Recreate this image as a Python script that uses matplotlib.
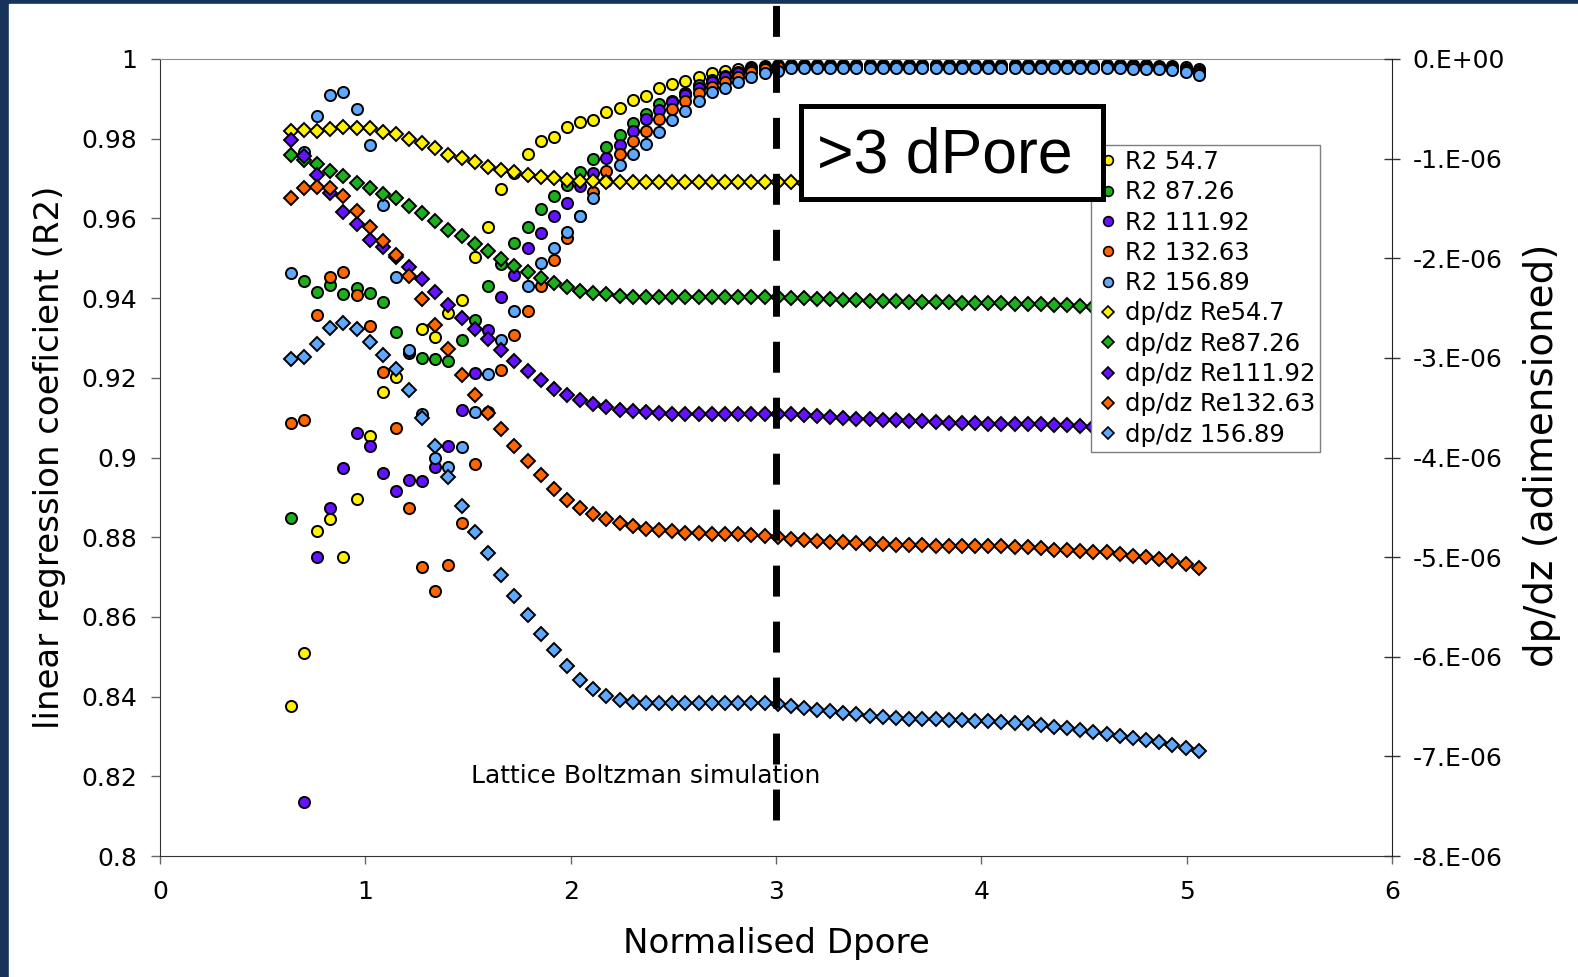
import numpy as np
import matplotlib.pyplot as plt
from matplotlib.patches import Rectangle
from matplotlib.lines import Line2D
from matplotlib.ticker import FuncFormatter

plt.rcParams['font.family'] = 'DejaVu Sans'

# Data
dpore = [0.636, 0.700, 0.764, 0.828, 0.892, 0.957, 1.021, 1.085, 1.149, 1.213,
         1.277, 1.341, 1.405, 1.469, 1.533, 1.598, 1.662, 1.726, 1.790, 1.854,
         1.918, 1.982, 2.046, 2.110, 2.174, 2.239, 2.303, 2.367, 2.431, 2.495,
         2.559, 2.623, 2.687, 2.751, 2.815, 2.880, 2.944, 3.008, 3.072, 3.136,
         3.200, 3.264, 3.328, 3.392, 3.456, 3.521, 3.585, 3.649, 3.713, 3.777,
         3.841, 3.905, 3.969, 4.033, 4.097, 4.162, 4.226, 4.290, 4.354, 4.418,
         4.482, 4.546, 4.610, 4.674, 4.738, 4.803, 4.867, 4.931, 4.995, 5.059]

r2_54_7 = [0.8377, 0.8510, 0.8816, 0.8845, 0.8750, 0.8895, 0.9054, 0.9165, 0.9201, 0.9262,
           0.9322, 0.9302, 0.9362, 0.9395, 0.9502, 0.9579, 0.9673, 0.9715, 0.9762, 0.9795,
           0.9805, 0.9830, 0.9841, 0.9847, 0.9868, 0.9878, 0.9897, 0.9908, 0.9926, 0.9937,
           0.9945, 0.9956, 0.9964, 0.9970, 0.9975, 0.9980, 0.9983, 0.9985, 0.9985, 0.9985,
           0.9985, 0.9985, 0.9985, 0.9985, 0.9985, 0.9985, 0.9985, 0.9985, 0.9985, 0.9985,
           0.9985, 0.9985, 0.9985, 0.9985, 0.9985, 0.9985, 0.9985, 0.9985, 0.9985, 0.9985,
           0.9985, 0.9985, 0.9985, 0.9985, 0.9985, 0.9984, 0.9983, 0.9982, 0.9979, 0.9975]
r2_87_26 = [0.8847, 0.9444, 0.9416, 0.9433, 0.9410, 0.9425, 0.9414, 0.9391, 0.9316, 0.9268,
            0.9249, 0.9247, 0.9243, 0.9295, 0.9345, 0.9431, 0.9486, 0.9538, 0.9579, 0.9624,
            0.9656, 0.9684, 0.9717, 0.9748, 0.9778, 0.9809, 0.9840, 0.9862, 0.9886, 0.9895,
            0.9915, 0.9935, 0.9947, 0.9957, 0.9968, 0.9977, 0.9980, 0.9983, 0.9983, 0.9983,
            0.9983, 0.9983, 0.9983, 0.9983, 0.9983, 0.9983, 0.9983, 0.9983, 0.9983, 0.9983,
            0.9983, 0.9983, 0.9983, 0.9983, 0.9983, 0.9983, 0.9983, 0.9983, 0.9983, 0.9983,
            0.9983, 0.9983, 0.9983, 0.9983, 0.9983, 0.9982, 0.9981, 0.9980, 0.9976, 0.9970]
r2_111_92 = [np.nan, 0.8136, 0.8750, 0.8873, 0.8973, 0.9061, 0.9029, 0.8960, 0.8917, 0.8944,
             0.8941, 0.8975, 0.9029, 0.9118, 0.9211, 0.9320, 0.9404, 0.9458, 0.9525, 0.9564,
             0.9607, 0.9639, 0.9681, 0.9713, 0.9751, 0.9784, 0.9820, 0.9849, 0.9873, 0.9891,
             0.9910, 0.9926, 0.9943, 0.9954, 0.9964, 0.9972, 0.9978, 0.9981, 0.9981, 0.9981,
             0.9981, 0.9981, 0.9981, 0.9981, 0.9981, 0.9981, 0.9981, 0.9981, 0.9981, 0.9981,
             0.9981, 0.9981, 0.9981, 0.9981, 0.9981, 0.9981, 0.9981, 0.9981, 0.9981, 0.9981,
             0.9981, 0.9981, 0.9981, 0.9981, 0.9981, 0.9980, 0.9979, 0.9977, 0.9973, 0.9967]
r2_132_63 = [0.9087, 0.9094, 0.9358, 0.9452, 0.9466, 0.9408, 0.9331, 0.9215, 0.9073, 0.8873,
             0.8726, 0.8665, 0.8730, 0.8835, 0.8984, 0.9115, 0.9220, 0.9307, 0.9368, 0.9430,
             0.9496, 0.9550, 0.9605, 0.9665, 0.9720, 0.9762, 0.9795, 0.9820, 0.9849, 0.9874,
             0.9895, 0.9914, 0.9930, 0.9943, 0.9956, 0.9967, 0.9974, 0.9979, 0.9979, 0.9979,
             0.9979, 0.9979, 0.9979, 0.9979, 0.9979, 0.9979, 0.9979, 0.9979, 0.9979, 0.9979,
             0.9979, 0.9979, 0.9979, 0.9979, 0.9979, 0.9979, 0.9979, 0.9979, 0.9979, 0.9979,
             0.9979, 0.9979, 0.9979, 0.9979, 0.9979, 0.9978, 0.9977, 0.9975, 0.9970, 0.9964]
r2_156_89 = [0.9464, 0.9767, 0.9858, 0.9910, 0.9917, 0.9875, 0.9784, 0.9634, 0.9454, 0.9271,
             0.9110, 0.8998, 0.8977, 0.9027, 0.9113, 0.9209, 0.9295, 0.9368, 0.9430, 0.9487,
             0.9525, 0.9565, 0.9605, 0.9650, 0.9695, 0.9735, 0.9762, 0.9786, 0.9818, 0.9847,
             0.9870, 0.9895, 0.9916, 0.9928, 0.9943, 0.9956, 0.9964, 0.9971, 0.9977, 0.9977,
             0.9977, 0.9977, 0.9977, 0.9977, 0.9977, 0.9977, 0.9977, 0.9977, 0.9977, 0.9977,
             0.9977, 0.9977, 0.9977, 0.9977, 0.9977, 0.9977, 0.9977, 0.9977, 0.9977, 0.9977,
             0.9977, 0.9977, 0.9977, 0.9977, 0.9976, 0.9975, 0.9974, 0.9972, 0.9967, 0.9960]

# pressure gradient, in units of 1e-6
dp_54_7 = [-0.72, -0.71, -0.72, -0.70, -0.68, -0.69, -0.69, -0.73, -0.75, -0.80,
           -0.84, -0.89, -0.96, -0.99, -1.03, -1.08, -1.11, -1.13, -1.16, -1.18,
           -1.19, -1.21, -1.22, -1.22, -1.23, -1.23, -1.23, -1.23, -1.23, -1.23,
           -1.23, -1.23, -1.23, -1.23, -1.23, -1.23, -1.23, -1.23, -1.23, -1.24,
           -1.24, -1.24, -1.24, -1.24, -1.25, -1.25, -1.25, -1.25, -1.25, -1.26,
           -1.26, -1.26, -1.26, -1.26, -1.26, -1.27, -1.27, -1.27, -1.27, -1.28,
           -1.28, -1.29, -1.29, -1.30, -1.30, -1.31, -1.32, -1.33, -1.34, -1.36]
dp_87_26 = [-0.96, -1.01, -1.05, -1.12, -1.17, -1.24, -1.29, -1.36, -1.40, -1.48,
            -1.55, -1.63, -1.72, -1.78, -1.86, -1.93, -2.01, -2.08, -2.14, -2.20,
            -2.25, -2.29, -2.33, -2.35, -2.36, -2.38, -2.39, -2.39, -2.39, -2.39,
            -2.39, -2.39, -2.39, -2.39, -2.39, -2.39, -2.39, -2.39, -2.40, -2.40,
            -2.41, -2.41, -2.42, -2.42, -2.43, -2.43, -2.43, -2.44, -2.44, -2.44,
            -2.44, -2.45, -2.45, -2.45, -2.45, -2.46, -2.46, -2.46, -2.47, -2.47,
            -2.48, -2.49, -2.50, -2.51, -2.52, -2.53, -2.54, -2.56, -2.58, -2.60]
dp_111_92 = [-0.81, -0.97, -1.16, -1.35, -1.54, -1.66, -1.82, -1.89, -1.99, -2.09,
             -2.21, -2.34, -2.47, -2.60, -2.71, -2.81, -2.92, -3.03, -3.13, -3.22,
             -3.31, -3.37, -3.42, -3.46, -3.49, -3.52, -3.53, -3.54, -3.55, -3.56,
             -3.56, -3.56, -3.56, -3.56, -3.56, -3.56, -3.56, -3.56, -3.56, -3.57,
             -3.58, -3.59, -3.60, -3.61, -3.61, -3.62, -3.62, -3.63, -3.63, -3.64,
             -3.65, -3.65, -3.65, -3.66, -3.66, -3.66, -3.66, -3.66, -3.67, -3.67,
             -3.68, -3.69, -3.70, -3.71, -3.72, -3.74, -3.75, -3.77, -3.79, -3.82]
dp_132_63 = [-1.40, -1.29, -1.28, -1.29, -1.38, -1.53, -1.69, -1.83, -1.97, -2.18,
             -2.41, -2.67, -2.91, -3.17, -3.37, -3.55, -3.71, -3.88, -4.04, -4.18,
             -4.32, -4.43, -4.51, -4.57, -4.62, -4.66, -4.69, -4.72, -4.73, -4.74,
             -4.76, -4.76, -4.77, -4.77, -4.77, -4.78, -4.79, -4.80, -4.82, -4.83,
             -4.84, -4.85, -4.85, -4.86, -4.87, -4.87, -4.88, -4.88, -4.88, -4.89,
             -4.89, -4.89, -4.89, -4.89, -4.89, -4.90, -4.90, -4.91, -4.93, -4.93,
             -4.94, -4.95, -4.95, -4.97, -4.99, -5.00, -5.02, -5.04, -5.07, -5.11]
dp_156_89 = [-3.01, -2.99, -2.86, -2.70, -2.65, -2.71, -2.84, -2.97, -3.11, -3.32,
             -3.60, -3.88, -4.20, -4.49, -4.75, -4.96, -5.18, -5.39, -5.58, -5.77,
             -5.93, -6.09, -6.23, -6.32, -6.39, -6.43, -6.45, -6.46, -6.46, -6.46,
             -6.46, -6.46, -6.46, -6.46, -6.46, -6.46, -6.46, -6.47, -6.49, -6.51,
             -6.53, -6.54, -6.56, -6.57, -6.59, -6.60, -6.61, -6.62, -6.62, -6.62,
             -6.63, -6.63, -6.64, -6.64, -6.65, -6.66, -6.67, -6.69, -6.71, -6.72,
             -6.74, -6.76, -6.78, -6.80, -6.82, -6.84, -6.86, -6.89, -6.92, -6.95]

r2_series = [r2_54_7, r2_87_26, r2_111_92, r2_132_63, r2_156_89]
dp_series = [dp_54_7, dp_87_26, dp_111_92, dp_132_63, dp_156_89]
r2_labels = ['R2 54.7', 'R2 87.26', 'R2 111.92', 'R2 132.63', 'R2 156.89']
dp_labels = ['dp/dz Re54.7', 'dp/dz Re87.26', 'dp/dz Re111.92', 'dp/dz Re132.63', 'dp/dz 156.89']
colors = ['#FFF200', '#1DB01D', '#6611FF', '#FF6600', '#5EA9FF']
threshold = 3

W, H = 1578, 977
fig = plt.figure(figsize=(W / 100, H / 100), dpi=100)

# slide background: navy strip on top and left
fig.patches.append(Rectangle((0, 0), 1, 1, transform=fig.transFigure,
                             color='#17335c', zorder=-10))
fig.patches.append(Rectangle((9 / W, 0), 1, (H - 4) / H, transform=fig.transFigure,
                             color='white', zorder=-9))

ax = fig.add_axes([160 / W, 1 - 856 / H, 1232 / W, 797 / H])
ax2 = ax.twinx()

for y, c in zip(r2_series, colors):
    ax.plot(dpore, y, 'o', ls='none', ms=8, mfc=c, mec='black', mew=1.4)
for y, c in zip(dp_series, colors):
    ax2.plot(dpore, np.array(y) * 1e-6, 'D', ls='none', ms=7, mfc=c, mec='black', mew=1.4)

ax2.axvline(threshold, ymin=36 / 797, ymax=851 / 797, color='black', lw=5,
            dashes=(4.46, 3.6), clip_on=False, zorder=10)

ax.set_xlim(0, 6)
ax.set_ylim(0.8, 1.0)
ax2.set_ylim(-8e-6, 0)
ax.set_xticks(range(7))
ax.set_yticks(np.linspace(0.8, 1.0, 11))
ax2.set_yticks(np.linspace(-8e-6, 0, 9))
ax.yaxis.set_major_formatter(FuncFormatter(lambda v, p: f'{v:g}'))
ax2.yaxis.set_major_formatter(
    FuncFormatter(lambda v, p: '0.E+00' if abs(v) < 1e-12 else f'{v * 1e6:.0f}.E-06'))

ax.tick_params(axis='y', direction='out', length=6.5, width=1, color='#666666',
               labelsize=18, pad=10)
ax.tick_params(axis='x', direction='out', length=6, width=1, color='#666666',
               labelsize=18, pad=11)
ax2.tick_params(axis='y', direction='inout', length=12, width=1, color='#333333',
                labelsize=18, pad=9)

for s in ['top', 'left', 'bottom']:
    ax2.spines[s].set_visible(False)
ax.spines['top'].set_color('#8c8c8c')
ax.spines['left'].set_color('#333333')
ax.spines['bottom'].set_color('#333333')
ax.spines['right'].set_visible(False)
ax2.spines['right'].set_color('#222222')

fig.text(50 / W, 1 - 457 / H, 'linear regression coeficient (R2)', rotation=90,
         ha='center', va='center', fontsize=24.5)
fig.text(1542 / W, 1 - 455 / H, 'dp/dz (adimensioned)', rotation=90,
         ha='center', va='center', fontsize=28)
fig.text(776 / W, 1 - 943 / H, 'Normalised Dpore', ha='center', va='center', fontsize=24.5)
fig.text(646 / W, 1 - 776 / H, 'Lattice Boltzman simulation', ha='center', va='center',
         fontsize=18)

# legend
handles = [Line2D([], [], marker='o', ls='none', ms=7, mfc=c, mec='black', mew=1.2)
           for c in colors]
handles += [Line2D([], [], marker='D', ls='none', ms=6, mfc=c, mec='black', mew=1.2)
            for c in colors]
leg = fig.legend(handles, r2_labels + dp_labels, loc='upper left',
                 bbox_to_anchor=(1091 / W, 1 - 145 / H), bbox_transform=fig.transFigure,
                 fontsize=17.5, frameon=True, fancybox=False, framealpha=1,
                 edgecolor='#7f7f7f', borderpad=0.2, borderaxespad=0,
                 handlelength=1.0, handletextpad=0.18, labelspacing=0.26)
leg.get_frame().set_linewidth(1.0)

# ">3 dPore" call-out box
fig.patches.append(Rectangle((800.5 / W, 1 - 198.5 / H), 302 / W, 93 / H,
                             transform=fig.transFigure, fc='white', ec='black',
                             lw=3.6, zorder=20))
fig.text(945 / W, 1 - 173 / H, '>3 dPore', family='Liberation Sans', fontsize=45,
         ha='center', va='baseline', zorder=21)

fig.savefig('out.png', dpi=100)
